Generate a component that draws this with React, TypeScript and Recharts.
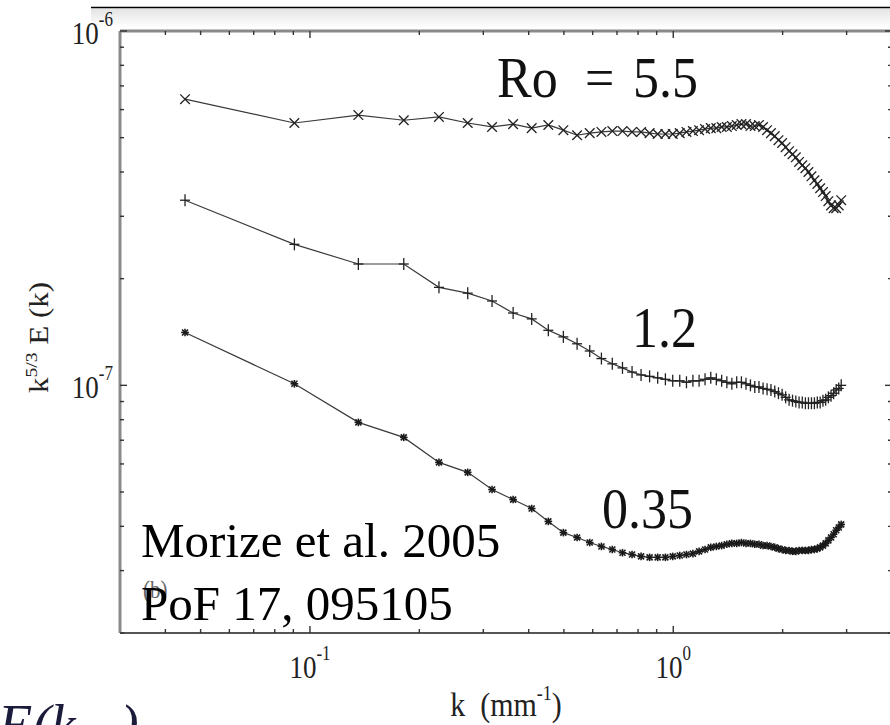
import { LineChart, Line, XAxis, YAxis } from "recharts";

// k in mm^-1
const kValues = [
  0.0453, 0.0906, 0.1359, 0.1812, 0.2265, 0.2718, 0.3171, 0.3624, 0.4077, 0.453,
  0.4983, 0.5436, 0.5889, 0.6342, 0.6795, 0.7248, 0.7701, 0.8154, 0.8607, 0.906,
  0.9513, 0.9966, 1.0419, 1.0872, 1.1325, 1.1778, 1.2231, 1.2684, 1.3137, 1.359,
  1.4043, 1.4496, 1.4949, 1.5402, 1.5855, 1.6308, 1.6761, 1.7214, 1.7667, 1.812,
  1.8573, 1.9026, 1.9479, 1.9932, 2.0385, 2.0838, 2.1291, 2.1744, 2.2197, 2.265,
  2.3103, 2.3556, 2.4009, 2.4462, 2.4915, 2.5368, 2.5821, 2.6274, 2.6727, 2.718,
  2.7633, 2.8086, 2.8539, 2.8992,
];

// k^{5/3} E(k), in units of 1e-7
const ro55 = [
  6.42, 5.5, 5.79, 5.6, 5.72, 5.5, 5.36, 5.46, 5.32, 5.43,
  5.25, 5.08, 5.15, 5.19, 5.22, 5.22, 5.19, 5.19, 5.15, 5.12,
  5.12, 5.12, 5.15, 5.19, 5.22, 5.25, 5.29, 5.32, 5.32, 5.36,
  5.36, 5.39, 5.43, 5.46, 5.46, 5.39, 5.39, 5.43, 5.36, 5.25,
  5.15, 5.05, 4.92, 4.83, 4.7, 4.58, 4.49, 4.4, 4.27, 4.18,
  4.1, 4.0, 3.89, 3.79, 3.7, 3.6, 3.51, 3.42, 3.31, 3.22,
  3.16, 3.16, 3.22, 3.33,
];

const ro12 = [
  3.33, 2.5, 2.2, 2.2, 1.89, 1.82, 1.73, 1.6, 1.54, 1.43,
  1.37, 1.31, 1.25, 1.19, 1.15, 1.12, 1.09, 1.07, 1.06, 1.05,
  1.04, 1.03, 1.03, 1.02, 1.03, 1.03, 1.04, 1.05, 1.04, 1.03,
  1.02, 1.01, 1.02, 1.02, 1.01, 1.0, 0.99, 0.99, 0.98, 0.975,
  0.97, 0.96, 0.95, 0.94, 0.925, 0.91, 0.905, 0.9, 0.895, 0.895,
  0.89, 0.89, 0.89, 0.89, 0.895, 0.895, 0.905, 0.91, 0.925, 0.935,
  0.95, 0.97, 0.98, 1.0,
];

const ro035 = [
  1.41, 1.01, 0.786, 0.713, 0.606, 0.568, 0.508, 0.476, 0.449, 0.413,
  0.384, 0.372, 0.36, 0.351, 0.344, 0.337, 0.333, 0.329, 0.327, 0.327,
  0.327, 0.329, 0.331, 0.333, 0.335, 0.34, 0.344, 0.349, 0.351, 0.353,
  0.356, 0.358, 0.358, 0.36, 0.358, 0.358, 0.356, 0.356, 0.353, 0.353,
  0.351, 0.349, 0.346, 0.344, 0.342, 0.342, 0.34, 0.34, 0.342, 0.342,
  0.342, 0.342, 0.344, 0.344, 0.346, 0.349, 0.353, 0.358, 0.365, 0.372,
  0.38, 0.39, 0.397, 0.405,
];

const xTicks = [
  0.04, 0.05, 0.06, 0.07, 0.08, 0.09, 0.1, 0.2, 0.3, 0.4, 0.5, 0.6, 0.7, 0.8, 0.9,
  1, 2, 3, 4,
];
const yTicks = [
  2e-8, 3e-8, 4e-8, 5e-8, 6e-8, 7e-8, 8e-8, 9e-8, 1e-7,
  2e-7, 3e-7, 4e-7, 5e-7, 6e-7, 7e-7, 8e-7, 9e-7, 1e-6,
];
const xMajor = [0.1, 1];
const yMajor = [1e-7, 1e-6];

const data = kValues.map((k, i) => ({
  k,
  a: ro55[i] * 1e-7,
  b: ro12[i] * 1e-7,
  c: ro035[i] * 1e-7,
}));

const SERIF = "'Liberation Serif', 'Times New Roman', serif";
const INK = "#222";
const serifStyle = { fontFamily: SERIF };

const isMajor = (v: number, list: number[]) =>
  list.some((m) => Math.abs(v / m - 1) < 1e-6);
const expOf = (v: number) => String(Math.round(Math.log10(v)));

function BottomTick(props: any) {
  const { x, y, payload } = props;
  const v = payload.value;
  const major = isMajor(v, xMajor);
  return (
    <g>
      <line x1={x} x2={x} y1={y} y2={y - (major ? 7 : 4)} stroke="#333" strokeWidth={1.4} />
      {major && (
        <g transform={`translate(${x},${y + 45}) scale(1,1.18)`}>
          <text textAnchor="middle" style={serifStyle} fontSize={27} fill={INK}>
            10
            <tspan dy={-15} fontSize={17}>
              {expOf(v)}
            </tspan>
          </text>
        </g>
      )}
    </g>
  );
}

function TopTick(props: any) {
  const { x, y, payload } = props;
  const major = isMajor(payload.value, xMajor);
  return (
    <line x1={x} x2={x} y1={y} y2={y + (major ? 7 : 4)} stroke="#333" strokeWidth={1.4} />
  );
}

function LeftTick(props: any) {
  const { x, y, payload } = props;
  const v = payload.value;
  const major = isMajor(v, yMajor);
  return (
    <g>
      <line x1={x} x2={x + (major ? 7 : 4)} y1={y} y2={y} stroke="#333" strokeWidth={1.4} />
      {major && (
        <g transform={`translate(${x - 7},${y + 12.5}) scale(1,1.18)`}>
          <text textAnchor="end" style={serifStyle} fontSize={27} fill={INK}>
            10
            <tspan dy={-15} fontSize={17}>
              {expOf(v)}
            </tspan>
          </text>
        </g>
      )}
    </g>
  );
}

function RightTick(props: any) {
  const { x, y, payload } = props;
  const major = isMajor(payload.value, yMajor);
  return (
    <line x1={x} x2={x - (major ? 7 : 4)} y1={y} y2={y} stroke="#333" strokeWidth={1.4} />
  );
}

const crossDot = (p: any) => {
  const { cx, cy, index } = p;
  const h = 4.8;
  return (
    <g key={`a-${index}`} stroke="#222" strokeWidth={1.3}>
      <line x1={cx - h} y1={cy - h} x2={cx + h} y2={cy + h} />
      <line x1={cx - h} y1={cy + h} x2={cx + h} y2={cy - h} />
    </g>
  );
};

const plusDot = (p: any) => {
  const { cx, cy, index } = p;
  return (
    <g key={`b-${index}`} stroke="#222" strokeWidth={1.3}>
      <line x1={cx - 5} y1={cy} x2={cx + 5} y2={cy} />
      <line x1={cx} y1={cy - 6} x2={cx} y2={cy + 6} />
    </g>
  );
};

const starDot = (p: any) => {
  const { cx, cy, index } = p;
  const h = 3.8;
  const d = 3;
  return (
    <g key={`c-${index}`} stroke="#1a1a1a" strokeWidth={1.6}>
      <line x1={cx - h} y1={cy} x2={cx + h} y2={cy} />
      <line x1={cx} y1={cy - h} x2={cx} y2={cy + h} />
      <line x1={cx - d} y1={cy - d} x2={cx + d} y2={cy + d} />
      <line x1={cx - d} y1={cy + d} x2={cx + d} y2={cy - d} />
    </g>
  );
};

export default function App() {
  return (
    <div
      style={{
        position: "fixed",
        left: 0,
        top: 0,
        width: 890,
        height: 725,
        overflow: "hidden",
        background: "#fff",
      }}
    >
      {/* page header rule and its faint shadow, behind the chart */}
      <svg width={890} height={40} style={{ position: "absolute", left: 0, top: 0 }}>
        <defs>
          <linearGradient id="band" x1="0" y1="0" x2="0" y2="1">
            <stop offset="0" stopColor="#e4e4e4" />
            <stop offset="1" stopColor="#ffffff" />
          </linearGradient>
        </defs>
        <rect x={91} y={8.5} width={800} height={19} fill="url(#band)" />
        <line x1={91} x2={890} y1={7.5} y2={7.5} stroke="#000" strokeWidth={1.5} />
      </svg>

      <div style={{ position: "absolute", left: 0, top: 0 }}>
        <LineChart width={900} height={725} data={data} margin={{ top: 0, right: 0, bottom: 0, left: 0 }}>
          <XAxis
            dataKey="k"
            type="number"
            scale="log"
            domain={[0.03, 4]}
            allowDataOverflow
            ticks={xTicks}
            interval={0}
            height={92}
            tickSize={0}
            tickMargin={0}
            tickLine={false}
            tick={BottomTick}
            axisLine={{ stroke: "#555", strokeWidth: 2 }}
          />
          <XAxis
            xAxisId="top"
            orientation="top"
            dataKey="k"
            type="number"
            scale="log"
            domain={[0.03, 4]}
            allowDataOverflow
            ticks={xTicks}
            interval={0}
            height={31}
            tickSize={0}
            tickMargin={0}
            tickLine={false}
            tick={TopTick}
            axisLine={{ stroke: "#8a8a8a", strokeWidth: 3 }}
          />
          <YAxis
            type="number"
            scale="log"
            domain={[2e-8, 1e-6]}
            allowDataOverflow
            ticks={yTicks}
            interval={0}
            width={120}
            tickSize={0}
            tickMargin={0}
            tickLine={false}
            tick={LeftTick}
            axisLine={{ stroke: "#8a8a8a", strokeWidth: 3 }}
          />
          <YAxis
            yAxisId="right"
            orientation="right"
            type="number"
            scale="log"
            domain={[2e-8, 1e-6]}
            allowDataOverflow
            ticks={yTicks}
            interval={0}
            width={8}
            tickSize={0}
            tickMargin={0}
            tickLine={false}
            tick={RightTick}
            axisLine={{ stroke: "#555", strokeWidth: 2 }}
          />
          <Line
            dataKey="a"
            type="linear"
            stroke="#3a3a3a"
            strokeWidth={1.2}
            dot={crossDot}
            activeDot={false}
            isAnimationActive={false}
          />
          <Line
            dataKey="b"
            type="linear"
            stroke="#3a3a3a"
            strokeWidth={1.2}
            dot={plusDot}
            activeDot={false}
            isAnimationActive={false}
          />
          <Line
            dataKey="c"
            type="linear"
            stroke="#3a3a3a"
            strokeWidth={1.2}
            dot={starDot}
            activeDot={false}
            isAnimationActive={false}
          />
        </LineChart>
      </div>

      <svg
        width={890}
        height={725}
        style={{ position: "absolute", left: 0, top: 0, pointerEvents: "none" }}
      >
        {/* axis titles */}
        <g transform="translate(48,393) rotate(-90) scale(1.15,1)">
          <text style={serifStyle} fontSize={27} fill={INK}>
            k
            <tspan dy={-11} fontSize={17}>
              5/3
            </tspan>
            <tspan dy={11}> E (k)</tspan>
          </text>
        </g>
        <g transform="translate(506,716) scale(1,1.15)">
          <text textAnchor="middle" style={serifStyle} fontSize={30} fill={INK}>
            {"k\u00a0\u00a0(mm"}
            <tspan dy={-14} fontSize={18}>
              -1
            </tspan>
            <tspan dy={14}>)</tspan>
          </text>
        </g>

        {/* curve labels */}
        <g style={serifStyle} fontSize={52} fill="#111">
          <g transform="translate(497,97) scale(1,1.1)">
            <text x={0}>Ro</text>
            <text x={88}>=</text>
            <text x={136}>5.5</text>
          </g>
          <g transform="translate(632,347) scale(1,1.1)">
            <text>1.2</text>
          </g>
          <g transform="translate(602,528) scale(1,1.1)">
            <text>0.35</text>
          </g>
        </g>

        <g transform="translate(143,598) scale(1,1.15)">
          <text style={serifStyle} fontSize={21} fill="#666">
            (b)
          </text>
        </g>
        <text x={141} y={557} style={serifStyle} fontSize={49} fill="#000">
          Morize et al. 2005
        </text>
        <text x={141} y={620} style={serifStyle} fontSize={49} fill="#000">
          PoF 17, 095105
        </text>

        <text x={-2} y={744} style={serifStyle} fontStyle="italic" fontSize={56} fill="#1b1b3c">
          E(k
          <tspan x={120}>)</tspan>
        </text>
      </svg>
    </div>
  );
}
